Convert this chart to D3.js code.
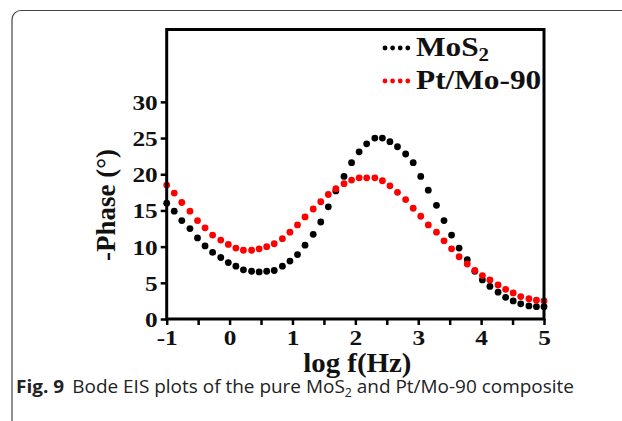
<!DOCTYPE html>
<html>
<head>
<meta charset="utf-8">
<script src="https://cdn.jsdelivr.net/npm/d3@7"></script>
<style>
  html, body { margin: 0; padding: 0; background: #fff; }
  svg { display: block; }
</style>
</head>
<body>
<svg id="chart" width="622" height="421"></svg>
<script>
// Bode phase plot: -Phase (deg) against log f (Hz)
const logF = [-1.00, -0.88, -0.76, -0.63, -0.51, -0.39, -0.27, -0.14, -0.02, 0.10,
               0.22,  0.35,  0.47,  0.59,  0.71,  0.84,  0.96,  1.08,  1.20, 1.33,
               1.45,  1.57,  1.69,  1.82,  1.94,  2.06,  2.18,  2.31,  2.43, 2.55,
               2.67,  2.80,  2.92,  3.04,  3.16,  3.29,  3.41,  3.53,  3.65, 3.78,
               3.90,  4.02,  4.14,  4.27,  4.39,  4.51,  4.63,  4.76,  4.88, 5.00];

const phaseMoS2 = [16.0, 14.9, 13.6, 12.5, 11.2, 10.1, 9.2, 8.5, 7.8, 7.3,
                    6.8, 6.6, 6.5, 6.6, 6.7, 7.3, 8.0, 8.9, 10.2, 11.7,
                   13.4, 15.5, 17.7, 19.7, 21.6, 23.1, 24.2, 25.0, 25.0, 24.5,
                   23.8, 22.8, 21.6, 19.7, 17.8, 15.7, 13.6, 11.6, 9.8, 8.2,
                    6.6, 5.4, 4.5, 3.7, 3.0, 2.5, 2.1, 1.8, 1.7, 1.7];

const phasePtMo90 = [18.5, 17.4, 16.1, 14.9, 13.6, 12.6, 11.6, 10.9, 10.3, 9.8,
                      9.5, 9.5, 9.7, 10.0, 10.4, 11.1, 12.0, 13.0, 14.1, 15.2,
                     16.2, 17.2, 18.0, 18.7, 19.2, 19.5, 19.5, 19.5, 19.1, 18.4,
                     17.5, 16.5, 15.3, 14.2, 13.0, 12.0, 10.8, 9.7, 8.6, 7.6,
                      6.7, 6.0, 5.4, 4.7, 4.1, 3.6, 3.1, 2.8, 2.6, 2.5];

const xTicks = [-1, 0, 1, 2, 3, 4, 5];
const xMinorTicks = [-0.5, 0.5, 1.5, 2.5, 3.5, 4.5];
const yTicks = [0, 5, 10, 15, 20, 25, 30];

const series = [
  { name: "MoS", sub: "2", color: "#000000", values: phaseMoS2 },
  { name: "Pt/Mo-90", sub: "", color: "#ff0000", values: phasePtMo90 }
];

const svg = d3.select("#chart");
const serif = "'Liberation Serif', 'Times New Roman', serif";

// stretch a text element horizontally by factor k
function stretch(sel, k) {
  sel.each(function () {
    const w = this.getComputedTextLength();
    d3.select(this).attr("textLength", w * k).attr("lengthAdjust", "spacingAndGlyphs");
  });
}

// outer rounded frame
svg.append("rect")
  .attr("x", 12).attr("y", 10.5)
  .attr("width", 640).attr("height", 440)
  .attr("rx", 9).attr("ry", 9)
  .attr("fill", "none")
  .attr("stroke", "#444").attr("stroke-width", 1.2);

const plotLeft = 166.7, plotRight = 544, plotTop = 29.5, plotBottom = 319;
const x = d3.scaleLinear().domain([-1, 5]).range([plotLeft, plotRight]);
const y = d3.scaleLinear().domain([0, 40]).range([plotBottom, plotTop]);

// data points
series.forEach(s => {
  svg.append("g").selectAll("circle")
    .data(s.values.map((v, i) => [logF[i], v]))
    .join("circle")
    .attr("cx", d => x(d[0]))
    .attr("cy", d => y(d[1]))
    .attr("r", 3.4)
    .attr("fill", s.color);
});

// plot box
svg.append("rect")
  .attr("x", plotLeft).attr("y", plotTop)
  .attr("width", plotRight - plotLeft).attr("height", plotBottom - plotTop)
  .attr("fill", "none").attr("stroke", "#000").attr("stroke-width", 3);

// y axis
const yAxis = svg.append("g")
  .attr("transform", `translate(${plotLeft},0)`)
  .call(d3.axisLeft(y).tickValues(yTicks).tickSize(6).tickPadding(3).tickFormat(d => String(d)));
yAxis.select(".domain").remove();
yAxis.selectAll(".tick line").attr("stroke-width", 2.5);
yAxis.selectAll(".tick text")
  .attr("font-family", serif).attr("font-weight", "bold")
  .attr("font-size", 22).attr("fill", "#111").attr("dy", "0.34em");
stretch(yAxis.selectAll(".tick text"), 1.15);

// x axis: major ticks at whole decades, minor ticks between them
const xAxis = svg.append("g")
  .attr("transform", `translate(0,${plotBottom})`)
  .call(d3.axisBottom(x).tickValues(xTicks).tickSize(6).tickPadding(4).tickFormat(d => String(d)));
xAxis.select(".domain").remove();
xAxis.selectAll(".tick line").attr("stroke-width", 2.5);
xAxis.selectAll(".tick text")
  .attr("font-family", serif).attr("font-weight", "bold")
  .attr("font-size", 22).attr("fill", "#111");
stretch(xAxis.selectAll(".tick text"), 1.15);

svg.append("g")
  .attr("transform", `translate(0,${plotBottom})`)
  .call(d3.axisBottom(x).tickValues(xMinorTicks).tickSize(6).tickFormat(""))
  .call(g => g.select(".domain").remove())
  .selectAll(".tick line").attr("stroke-width", 2.5);

// axis titles
const xTitle = svg.append("text")
  .attr("x", (plotLeft + plotRight) / 2 + 2).attr("y", 372)
  .attr("text-anchor", "middle")
  .attr("font-family", serif).attr("font-weight", "bold")
  .attr("font-size", 27).attr("fill", "#111")
  .text("log f(Hz)");
stretch(xTitle, 1.07);

svg.append("text")
  .attr("transform", "translate(115,205) rotate(-90)")
  .attr("text-anchor", "middle")
  .attr("font-family", serif).attr("font-weight", "bold")
  .attr("font-size", 27).attr("fill", "#111")
  .text("-Phase (°)");

// legend
const legendRows = [56, 89];
series.forEach((s, i) => {
  const ly = legendRows[i];
  svg.append("g").selectAll("circle")
    .data([0, 1, 2, 3])
    .join("circle")
    .attr("cx", d => 385 + d * 7.6)
    .attr("cy", ly - 8)
    .attr("r", 2.4)
    .attr("fill", s.color);
  const t = svg.append("text")
    .attr("x", 416).attr("y", ly)
    .attr("font-family", serif).attr("font-weight", "bold")
    .attr("font-size", 27).attr("fill", "#111");
  t.append("tspan").text(s.name);
  if (s.sub) {
    t.append("tspan").attr("font-size", 18).attr("dy", 5).text(s.sub);
  }
  stretch(t, 1.16);
});

// caption
const sans = "'Open Sans', 'Noto Sans', sans-serif";
const cap = svg.append("text")
  .attr("x", 16).attr("y", 393)
  .attr("font-family", sans).attr("font-size", 18.5).attr("fill", "#222");
cap.append("tspan").attr("font-weight", "bold").text("Fig. 9");
cap.append("tspan").attr("dx", 8).text("Bode EIS plots of the pure MoS");
cap.append("tspan").attr("font-size", 12).attr("dy", 4).text("2");
cap.append("tspan").attr("dy", -4).text(" and Pt/Mo-90 composite");
cap.each(function () {
  d3.select(this).attr("textLength", 558).attr("lengthAdjust", "spacingAndGlyphs");
});
</script>
</body>
</html>
